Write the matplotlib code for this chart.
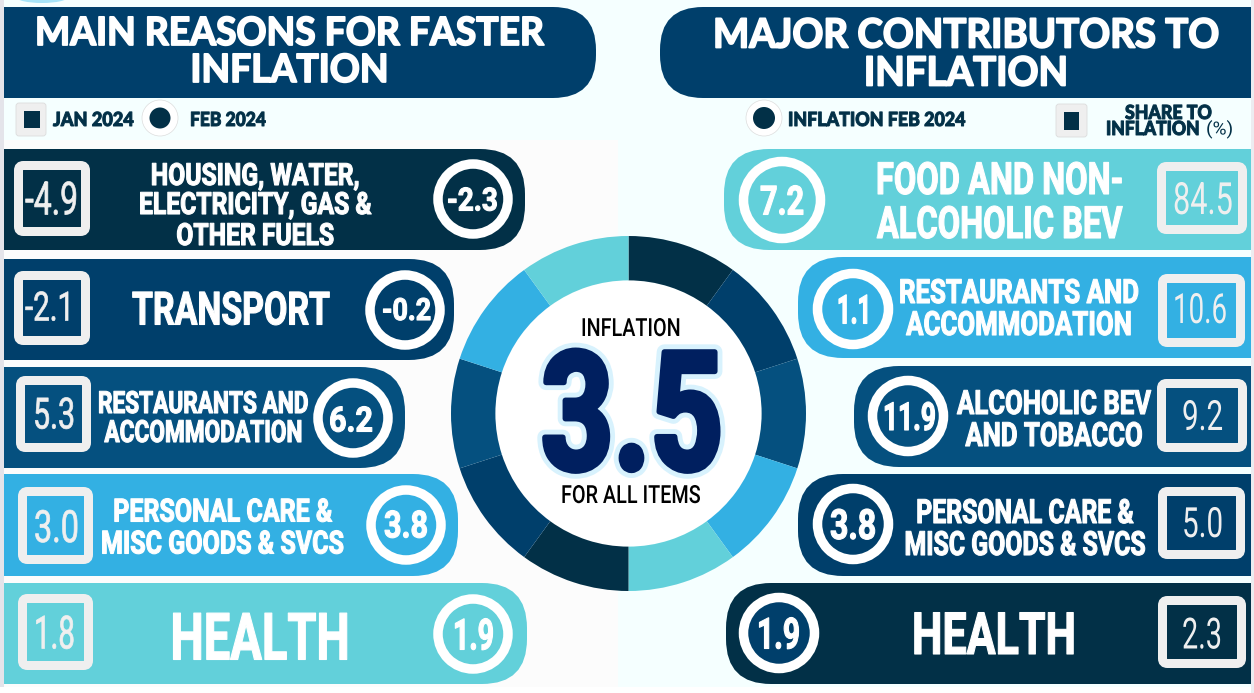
import matplotlib
matplotlib.use('Agg')
import matplotlib.pyplot as plt
import matplotlib.patheffects as pe
from matplotlib.patches import Rectangle, Circle, FancyBboxPatch, Ellipse
from matplotlib.transforms import Affine2D

# 資料
left_labels = ['HOUSING, WATER,\nELECTRICITY, GAS &\nOTHER FUELS', 'TRANSPORT', 'RESTAURANTS AND\nACCOMMODATION',
               'PERSONAL CARE &\nMISC GOODS & SVCS', 'HEALTH']
jan_2024 = ['-4.9', '-2.1', '5.3', '3.0', '1.8']
feb_2024 = ['-2.3', '-0.2', '6.2', '3.8', '1.9']

right_labels = ['FOOD AND NON-\nALCOHOLIC BEV', 'RESTAURANTS AND\nACCOMMODATION', 'ALCOHOLIC BEV\nAND TOBACCO',
                'PERSONAL CARE &\nMISC GOODS & SVCS', 'HEALTH']
inflation_feb = ['7.2', '1.1', '11.9', '3.8', '1.9']
share_to_inflation = ['84.5', '10.6', '9.2', '5.0', '2.3']

ring_shares = [1, 1, 1, 1, 1, 1, 1, 1, 1, 1]

# 顏色
NAVY = '#023047'
DARK = '#003f6b'
MID = '#05507f'
SKY = '#33b0e3'
TEAL = '#62d0da'
BOX = '#efefef'
ring_colors = [NAVY, DARK, MID, SKY, TEAL, NAVY, DARK, MID, SKY, TEAL]
left_colors = [NAVY, DARK, MID, SKY, TEAL]
right_colors = [TEAL, SKY, MID, DARK, NAVY]
right_ring_fill = [TEAL, SKY, MID, DARK, DARK]

# 版面位置 (像素)
left_rows = [(149, 250), (259, 360), (367, 468), (474, 576), (583, 684)]
left_ends = [525, 454, 405, 458, 527]
left_boxes = [(14, 90, 161, 236), (14, 90, 271, 345), (16, 91, 376, 452), (18, 93, 487, 564), (18, 93, 594, 670)]
left_box_text = [(51.5, 198, 33, 53), (49.5, 306, 29, 49), (54, 413, 31, 42), (56.5, 526, 32, 45), (54.5, 632, 33, 41)]
left_rings = [(473, 199), (405, 310), (353, 418), (406, 525), (473, 634)]
left_ring_text = [(472.5, 199, 23, 51), (406.5, 309, 22, 49), (351, 419, 25, 44), (406, 524, 27, 44), (473.5, 634, 31, 41)]
left_text = [(255, [174, 203, 234], 22, 232), (231, [308], 33, 198), (203, [402, 431], 22, 210), (223, [510, 542], 23, 244), (260, [636], 47, 179)]

right_rows = [(149, 250), (257, 358), (366, 467), (474, 576), (583, 684)]
right_starts = [724, 798, 854, 798, 726]
right_boxes = [(1157, 1247, 162, 234), (1158, 1245, 274, 347), (1157, 1247, 379, 452), (1158, 1245, 487, 559), (1158, 1246, 596, 668)]
right_box_text = [(1203, 198, 32, 60), (1200, 308, 30, 54), (1202.5, 415, 30, 41), (1202.5, 522, 30, 41), (1202, 633, 31, 40)]
right_rings = [(782, 200, 43), (853, 309, 40), (908, 416, 40), (853, 524, 40), (779, 633, 40)]
right_ring_text = [(782, 200, 29, 44), (854, 309, 29, 34), (909.5, 416, 28, 53), (853, 524, 30, 46), (778.5, 633, 31, 43)]
right_text = [(1000, [178, 222], 32, 248), (1019, [291, 323], 24, 240), (1054, [402, 434], 24, 194), (1025, [511, 543], 24, 241), (994, [633], 42, 164)]

ROBOTO = ['Roboto', 'DejaVu Sans']
LATO = ['Lato', 'DejaVu Sans']

fig = plt.figure(figsize=(12.54, 6.93), dpi=100)
ax = fig.add_axes([0, 0, 1, 1])
ax.set_xlim(0, 1254)
ax.set_ylim(693, 0)
ax.axis('off')
renderer = fig.canvas.get_renderer()


class Squeeze(pe.AbstractPathEffect):
    # 把字左右壓窄, 原本的圖是窄體字
    def __init__(self, sx, cx, strokes=()):
        super().__init__()
        self.sx = sx
        self.cx = cx
        self.strokes = strokes

    def draw_path(self, renderer, gc, tpath, affine, rgbFace=None):
        aff = affine + Affine2D().translate(-self.cx, 0).scale(self.sx, 1).translate(self.cx, 0)
        for lw, color in self.strokes:
            gc0 = renderer.new_gc()
            gc0.copy_properties(gc)
            gc0.set_linewidth(lw)
            gc0.set_foreground(color)
            gc0.set_joinstyle('round')
            renderer.draw_path(gc0, tpath, aff, None)
            gc0.restore()
        renderer.draw_path(gc, tpath, aff, rgbFace)


def squeeze_extent(t, sx, px):
    # 讓 get_window_extent 回傳壓窄後的範圍
    orig = t.get_window_extent

    def extent(renderer=None, dpi=None):
        return orig(renderer, dpi).transformed(Affine2D().translate(-px, 0).scale(sx, 1).translate(px, 0))
    t.get_window_extent = extent


def put_lines(lines, cx, cys, cap, width, color, family=ROBOTO, weight='bold', strokes=(), ha='center', zorder=5):
    # cap 是字高(像素), width 是最長一行的寬度(像素)
    items = []
    for s, cy in zip(lines, cys):
        items.append(ax.text(cx, cy + cap / 2, s, color=color, fontsize=cap, family=family, weight=weight,
                             ha=ha, va='baseline', zorder=zorder))
    longest = max(t.get_window_extent(renderer).width for t in items)
    px = ax.transData.transform((cx, 0))[0]
    for t in items:
        t.set_path_effects([Squeeze(width / longest, px, strokes)])
        squeeze_extent(t, width / longest, px)


def pill(x0, x1, y0, y1, color, side, r=45):
    # 一邊圓角的長條, side 是圓角那邊
    ax.add_patch(FancyBboxPatch((x0 + r, y0 + r), x1 - x0 - 2 * r, y1 - y0 - 2 * r,
                                boxstyle='round,pad=%f,rounding_size=%f' % (r, r), fc=color, ec='none'))
    if side == 'right':
        ax.add_patch(Rectangle((x0, y0), 2 * r, y1 - y0, fc=color, ec='none'))
    else:
        ax.add_patch(Rectangle((x1 - 2 * r, y0), 2 * r, y1 - y0, fc=color, ec='none'))


def value_box(x0, x1, y0, y1, fc):
    b = 4.5
    r = 5
    ax.add_patch(FancyBboxPatch((x0 + b + r, y0 + b + r), x1 - x0 - 2 * b - 2 * r, y1 - y0 - 2 * b - 2 * r,
                                boxstyle='round,pad=%f,rounding_size=%f' % (r, r), fc=fc, ec=BOX, lw=9 * 0.72))


def value_ring(cx, cy, r, fc):
    ax.add_patch(Circle((cx, cy), r - 4.5, fc=fc, ec='white', lw=9.5 * 0.72))


# 背景
ax.add_patch(Rectangle((0, 0), 1254, 687, fc='#f5ffff', ec='none'))
ax.add_patch(Rectangle((0, 140), 618, 547, fc='#fcfcfc', ec='none'))
ax.add_patch(Rectangle((1251, 0), 3, 693, fc='#ececf0', ec='none'))
ax.add_patch(Rectangle((0, 0), 4, 687, fc='#e4e4ea', ec='none'))
ax.add_patch(Ellipse((42, -3), 52, 12, fc='#a8e4f8', ec='none'))

# 標題
pill(4, 596, 7, 98, DARK, 'right', r=43)
pill(660, 1251, 7, 98, DARK, 'left', r=43)
put_lines(['MAIN REASONS FOR FASTER', 'INFLATION'], 289.5, [31, 68], 28, 509, 'white', family=LATO, strokes=[(1.3, 'white')])
put_lines(['MAJOR CONTRIBUTORS TO', 'INFLATION'], 966, [33, 71], 29, 506, 'white', family=LATO, strokes=[(1.3, 'white')])

# 圖例
ax.add_patch(FancyBboxPatch((19, 106), 24, 27, boxstyle='round,pad=3,rounding_size=3', fc=BOX, ec='#dcdcdc', lw=0.6))
ax.add_patch(Rectangle((24, 111), 16, 17, fc=NAVY, ec='none'))
legend_stroke = [(0.7, NAVY)]
put_lines(['JAN 2024'], 53, [119], 14, 81, NAVY, family=LATO, weight='black', ha='left', strokes=legend_stroke)
ax.add_patch(Circle((160, 118), 18, fc='white', ec='#dddddd', lw=0.5))
ax.add_patch(Circle((160, 118), 10.5, fc=NAVY, ec='none'))
put_lines(['FEB 2024'], 190, [119], 14, 76, NAVY, family=LATO, weight='black', ha='left', strokes=legend_stroke)

ax.add_patch(Circle((764, 118), 18, fc='white', ec='#dddddd', lw=0.5))
ax.add_patch(Circle((764, 118), 11, fc=NAVY, ec='none'))
put_lines(['INFLATION FEB 2024'], 788, [119], 14, 178, NAVY, family=LATO, weight='black', ha='left', strokes=legend_stroke)
ax.add_patch(FancyBboxPatch((1059, 107), 25, 27, boxstyle='round,pad=3,rounding_size=3', fc=BOX, ec='#dcdcdc', lw=0.6))
ax.add_patch(Rectangle((1064, 112), 15, 18, fc=NAVY, ec='none'))
put_lines(['SHARE TO'], 1168.5, [112], 14, 87, NAVY, family=LATO, weight='black', strokes=legend_stroke)
put_lines(['INFLATION'], 1106, [128], 14, 94, NAVY, family=LATO, weight='black', ha='left', strokes=legend_stroke)
put_lines(['(%)'], 1206, [128], 13, 27, NAVY, family=ROBOTO, weight='normal', ha='left')

# 左邊五列
for i in range(5):
    y0, y1 = left_rows[i]
    fc = left_colors[i]
    pill(4, left_ends[i], y0, y1, fc, 'right')
    value_box(*left_boxes[i], fc)
    x, y, cap, w = left_box_text[i]
    put_lines([jan_2024[i]], x, [y], cap, w, BOX, weight='normal', strokes=[(0.5, BOX)])
    value_ring(left_rings[i][0], left_rings[i][1], 39.5, fc)
    x, y, cap, w = left_ring_text[i]
    put_lines([feb_2024[i]], x, [y], cap, w, 'white', strokes=[(0.8, 'white')])
    x, ys, cap, w = left_text[i]
    put_lines(left_labels[i].split('\n'), x, ys, cap, w, 'white', strokes=[(0.8, 'white')])

# 右邊五列
for i in range(5):
    y0, y1 = right_rows[i]
    fc = right_colors[i]
    pill(right_starts[i], 1251, y0, y1, fc, 'left')
    value_ring(right_rings[i][0], right_rings[i][1], right_rings[i][2], right_ring_fill[i])
    x, y, cap, w = right_ring_text[i]
    put_lines([inflation_feb[i]], x, [y], cap, w, 'white', strokes=[(0.8, 'white')])
    x, ys, cap, w = right_text[i]
    put_lines(right_labels[i].split('\n'), x, ys, cap, w, 'white', strokes=[(0.8, 'white')])
    value_box(*right_boxes[i], fc)
    x, y, cap, w = right_box_text[i]
    put_lines([share_to_inflation[i]], x, [y], cap, w, BOX, weight='normal')

# 中間的圓環
ax.add_patch(Circle((628.5, 413.5), 133, fc='white', ec='none', zorder=2))
ring_ax = fig.add_axes([(628.5 - 177.5) / 1254, 1 - (413.5 + 177.5) / 693, 355 / 1254, 355 / 693])
ring_ax.pie(ring_shares, colors=ring_colors, startangle=90, counterclock=False, radius=1.0,
            wedgeprops=dict(width=0.25, edgecolor='none'))
ring_ax.set_xlim(-1, 1)
ring_ax.set_ylim(-1, 1)
ring_ax.set_aspect('equal')

put_lines(['INFLATION'], 631, [327], 18, 100, 'black', weight='medium')
put_lines(['FOR ALL ITEMS'], 631, [494], 18, 140, 'black', weight='medium')
put_lines(['3.5'], 632, [410], 119, 182, '#001f5f',
          strokes=[(11, '#d8f2fd'), (4, '#001f5f')])

fig.savefig('out.png', dpi=100)
